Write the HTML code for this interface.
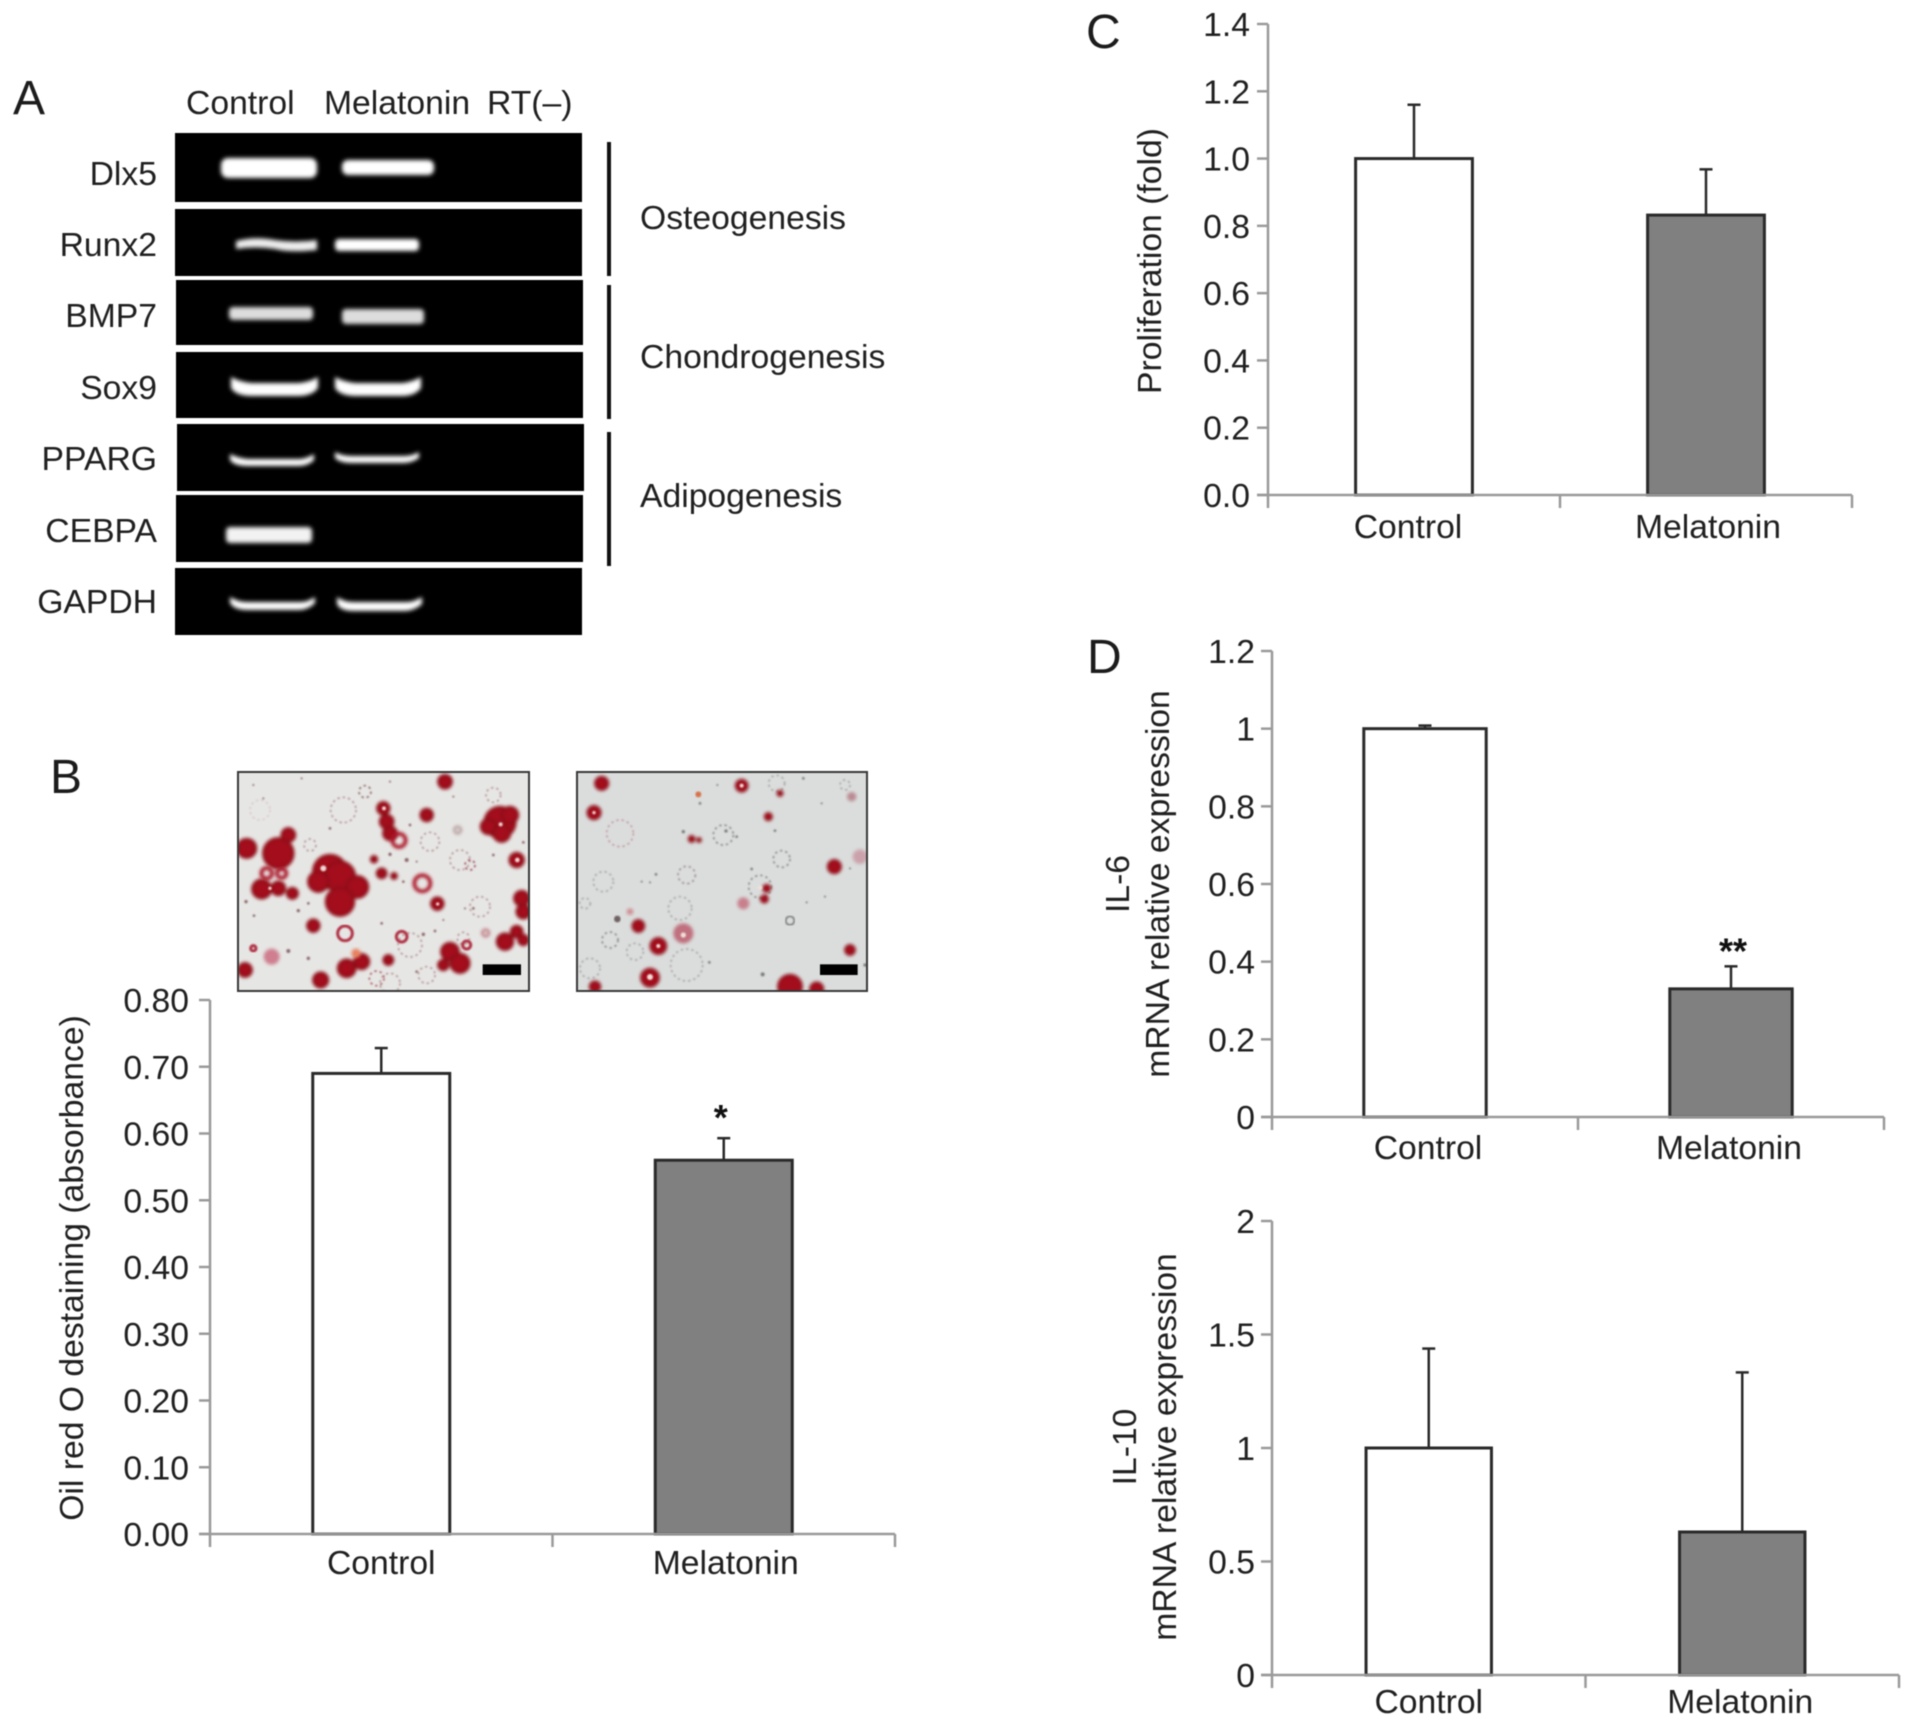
<!DOCTYPE html>
<html lang="en">
<head>
<meta charset="utf-8">
<title>Melatonin effects on gene expression, adipogenesis, proliferation and cytokines</title>
<style>
html,body{margin:0;padding:0;background:#fff}
svg{display:block;filter:blur(.55px)}
text{font-family:"Liberation Sans",Arial,sans-serif;fill:#202020;font-size:33.7px}
.cap{font-size:48px;fill:#1c1c1c}
</style>
</head>
<body>
<svg id="figure" xmlns="http://www.w3.org/2000/svg" width="1913" height="1727" viewBox="0 0 1913 1727">
<defs>
<filter id="bandBlur" x="-10%" y="-50%" width="120%" height="200%"><feGaussianBlur stdDeviation="2.2"/></filter>
<filter id="softBlur" x="-20%" y="-20%" width="140%" height="140%"><feGaussianBlur stdDeviation="4.5"/></filter>
<filter id="specBlur" x="-5%" y="-5%" width="110%" height="110%"><feGaussianBlur stdDeviation="2.5"/></filter>
<clipPath id="clipM1"><rect x="24" y="21" width="873" height="657"/></clipPath>
<clipPath id="clipM2"><rect x="21" y="21" width="870" height="657"/></clipPath>
</defs>
<rect width="1913" height="1727" fill="#fff"/>

<!-- Panel A -->
<g>
<text class="cap" x="13" y="114">A</text>
<text x="186" y="114">Control</text>
<text x="324" y="114">Melatonin</text>
<text x="487" y="114">RT(–)</text>
<g fill="#000">
<rect x="175" y="133" width="407" height="69"/>
<rect x="175" y="209" width="407" height="67"/>
<rect x="176" y="280" width="407" height="65"/>
<rect x="176" y="352" width="407" height="66"/>
<rect x="177" y="424" width="407" height="67"/>
<rect x="176" y="495" width="407" height="67"/>
<rect x="175" y="568" width="407" height="67"/>
</g>
<g fill="#fff" filter="url(#bandBlur)">
<rect x="221" y="158" width="96" height="20" rx="7"/>
<rect x="342" y="160" width="92" height="15" rx="6"/>
<path d="M236 241 Q255 236 275 240 Q295 243 317 240 L317 250 Q290 253 275 249 Q255 246 236 249Z" fill="#eee"/>
<rect x="335" y="239" width="84" height="12" rx="4"/>
<rect x="229" y="307" width="84" height="13" rx="4" fill="#ddd"/>
<rect x="342" y="309" width="82" height="15" rx="4" fill="#ddd"/>
<path d="M231 377 Q240 382 252 383 H298 Q310 382 318 377 L318 388 Q312 396 298 396 H252 Q236 396 231 388Z"/>
<path d="M335 377 Q344 382 356 383 H402 Q412 382 421 377 L421 388 Q415 396 402 396 H356 Q340 396 335 388Z"/>
<path d="M230 454 Q238 458 248 459 H300 Q308 458 314 454 L314 460 Q308 466 298 466 H248 Q234 466 230 460Z"/>
<path d="M335 452 Q342 456 352 456 H404 Q412 456 419 452 L419 458 Q412 463 402 463 H352 Q340 463 335 458Z"/>
<rect x="226" y="527" width="86" height="16" rx="4" fill="#f2f2f2"/>
<path d="M230 597 Q238 602 248 602 H300 Q308 602 315 597 L315 603 Q308 610 298 610 H248 Q234 610 230 603Z"/>
<path d="M337 597 Q344 602 354 602 H406 Q414 602 422 597 L422 604 Q414 611 404 611 H354 Q340 611 337 604Z"/>
</g>
<g text-anchor="end">
<text x="157" y="185">Dlx5</text>
<text x="157" y="256">Runx2</text>
<text x="157" y="327">BMP7</text>
<text x="157" y="399">Sox9</text>
<text x="157" y="470">PPARG</text>
<text x="157" y="542">CEBPA</text>
<text x="157" y="613">GAPDH</text>
</g>
<g stroke="#111" stroke-width="4">
<line x1="609" y1="142" x2="609" y2="276"/>
<line x1="609" y1="285" x2="609" y2="419"/>
<line x1="609" y1="432" x2="609" y2="566"/>
</g>
<text x="640" y="229">Osteogenesis</text>
<text x="640" y="368">Chondrogenesis</text>
<text x="640" y="507">Adipogenesis</text>
</g>

<!-- Panel B micrographs -->
<text class="cap" x="50" y="793">B</text>
<g transform="translate(230 765) scale(.33333)">
<rect x="24" y="21" width="873" height="657" fill="#e6e6e4"/>
<g clip-path="url(#clipM1)">
<g fill="none" stroke="#b7979a" stroke-width="5" stroke-dasharray="7 9" filter="url(#specBlur)">
<circle cx="340" cy="135" r="38"/><circle cx="600" cy="230" r="28"/><circle cx="690" cy="285" r="30"/><circle cx="750" cy="425" r="30"/><circle cx="540" cy="540" r="36"/><circle cx="480" cy="655" r="30"/><circle cx="590" cy="630" r="25"/><circle cx="90" cy="135" r="30" stroke="#dacaca"/><circle cx="790" cy="90" r="22"/><circle cx="405" cy="80" r="18" stroke="#8f6a6c"/><circle cx="720" cy="300" r="15" stroke="#a05060"/><circle cx="700" cy="520" r="18"/><circle cx="440" cy="640" r="22" stroke="#b0606a"/><circle cx="240" cy="240" r="18"/>
</g>
<g fill="#8e6a6e" filter="url(#specBlur)">
<circle cx="70" cy="60" r="3"/><circle cx="215" cy="40" r="3"/><circle cx="480" cy="50" r="3"/><circle cx="540" cy="180" r="4"/><circle cx="300" cy="190" r="4"/><circle cx="530" cy="285" r="6"/><circle cx="480" cy="268" r="5"/><circle cx="560" cy="290" r="3"/><circle cx="520" cy="350" r="4"/><circle cx="48" cy="410" r="5"/><circle cx="72" cy="452" r="4"/><circle cx="205" cy="437" r="5"/><circle cx="235" cy="415" r="4"/><circle cx="175" cy="558" r="6"/><circle cx="235" cy="580" r="5"/><circle cx="790" cy="270" r="4"/><circle cx="880" cy="232" r="4"/><circle cx="455" cy="475" r="4"/><circle cx="580" cy="508" r="5"/><circle cx="615" cy="498" r="4"/><circle cx="640" cy="465" r="3"/><circle cx="705" cy="430" r="3"/><circle cx="730" cy="430" r="4"/><circle cx="560" cy="620" r="4"/><circle cx="100" cy="100" r="3"/><circle cx="670" cy="95" r="3"/>
</g>
<g fill="none" stroke="#b03044" stroke-width="9" filter="url(#specBlur)"><circle cx="345" cy="505" r="22"/><circle cx="70" cy="550" r="8"/><circle cx="515" cy="515" r="16"/><circle cx="710" cy="540" r="12"/></g>
<g fill="#a30f1e" stroke="#8c0b18" stroke-width="7" filter="url(#softBlur)">
<circle cx="300" cy="320" r="50"/><circle cx="330" cy="335" r="45"/><circle cx="265" cy="350" r="30"/><circle cx="382" cy="366" r="32"/><circle cx="330" cy="410" r="42"/><circle cx="145" cy="265" r="45"/><circle cx="175" cy="210" r="20"/><circle cx="50" cy="250" r="28"/><circle cx="95" cy="372" r="28"/><circle cx="145" cy="370" r="20"/>
<circle cx="810" cy="172" r="46"/><circle cx="775" cy="185" r="22"/><circle cx="815" cy="205" r="25"/><circle cx="840" cy="150" r="24"/>
<circle cx="460" cy="130" r="18"/><circle cx="470" cy="170" r="20"/><circle cx="480" cy="205" r="20"/><circle cx="645" cy="50" r="20"/><circle cx="590" cy="150" r="18"/><circle cx="860" cy="285" r="21"/><circle cx="622" cy="416" r="18"/><circle cx="875" cy="400" r="22"/><circle cx="880" cy="440" r="20"/><circle cx="825" cy="530" r="24"/><circle cx="860" cy="500" r="17"/><circle cx="880" cy="525" r="15"/><circle cx="660" cy="560" r="26"/><circle cx="640" cy="600" r="15"/><circle cx="690" cy="595" r="28"/><circle cx="350" cy="610" r="26"/><circle cx="395" cy="590" r="22"/><circle cx="272" cy="645" r="22"/><circle cx="250" cy="482" r="18"/><circle cx="475" cy="585" r="14"/><circle cx="45" cy="615" r="20"/><circle cx="187" cy="385" r="16"/><circle cx="455" cy="325" r="14"/><circle cx="432" cy="283" r="9"/><circle cx="492" cy="333" r="8"/>
</g>
<circle cx="125" cy="575" r="24" fill="#cf7f90" filter="url(#softBlur)"/>
<g fill="none" stroke="#ab1525" stroke-width="11" filter="url(#softBlur)"><circle cx="507" cy="226" r="20"/><circle cx="577" cy="355" r="24"/><circle cx="110" cy="325" r="16"/><circle cx="155" cy="325" r="14"/><circle cx="767" cy="504" r="10" stroke="#b5606a" stroke-width="6"/><circle cx="683" cy="195" r="10" stroke="#a98a8a" stroke-width="6"/></g>
<g fill="#f0d8d4" filter="url(#specBlur)"><circle cx="462" cy="130" r="6"/><circle cx="812" cy="178" r="6"/><circle cx="280" cy="310" r="9"/><circle cx="862" cy="285" r="7"/><circle cx="623" cy="417" r="5"/><circle cx="120" cy="370" r="5"/></g>
<circle cx="378" cy="565" r="14" fill="#e8805e" filter="url(#softBlur)"/>
</g>
<rect x="24" y="21" width="873" height="657" fill="none" stroke="#383838" stroke-width="6"/>
<rect x="758" y="598" width="115" height="32" fill="#000"/>
</g>
<g transform="translate(570 765) scale(.33333)">
<rect x="21" y="21" width="870" height="657" fill="#dadddc"/>
<g clip-path="url(#clipM2)">
<g fill="none" stroke="#aca6a8" stroke-width="5" stroke-dasharray="7 9" filter="url(#specBlur)">
<circle cx="150" cy="205" r="40" stroke="#c79aa2"/><circle cx="635" cy="282" r="25" stroke="#8f8a8a"/><circle cx="350" cy="330" r="26" stroke="#a39195"/><circle cx="120" cy="525" r="24" stroke="#8f8a8a"/><circle cx="195" cy="560" r="25"/><circle cx="330" cy="430" r="35"/><circle cx="60" cy="610" r="30"/><circle cx="350" cy="600" r="48"/><circle cx="100" cy="350" r="30"/><circle cx="45" cy="415" r="16"/><circle cx="460" cy="210" r="30" stroke="#8f8a8a"/><circle cx="620" cy="55" r="24"/><circle cx="570" cy="365" r="34" stroke="#8f8a8a"/><circle cx="825" cy="60" r="15"/>
</g>
<circle cx="660" cy="467" r="13" fill="none" stroke="#777" stroke-width="5" filter="url(#specBlur)"/>
<g fill="#7d7b7b" filter="url(#specBlur)">
<circle cx="340" cy="200" r="5"/><circle cx="468" cy="198" r="5"/><circle cx="500" cy="215" r="4"/><circle cx="258" cy="328" r="4"/><circle cx="215" cy="350" r="3"/><circle cx="240" cy="352" r="3"/><circle cx="442" cy="60" r="3"/><circle cx="390" cy="115" r="4"/><circle cx="545" cy="312" r="4"/><circle cx="418" cy="592" r="4"/><circle cx="578" cy="628" r="6"/><circle cx="700" cy="40" r="4"/><circle cx="755" cy="115" r="3"/><circle cx="840" cy="310" r="3"/><circle cx="765" cy="395" r="3"/><circle cx="710" cy="412" r="3"/><circle cx="885" cy="600" r="5"/><circle cx="615" cy="197" r="4"/>
</g>
<circle cx="870" cy="275" r="22" fill="#cba2ab" filter="url(#softBlur)"/>
<circle cx="340" cy="505" r="30" fill="#c0707e" filter="url(#softBlur)"/>
<circle cx="520" cy="415" r="18" fill="#c8808c" filter="url(#softBlur)"/>
<circle cx="180" cy="440" r="10" fill="#d08a90" filter="url(#softBlur)"/>
<circle cx="142" cy="462" r="10" fill="#6f6062" filter="url(#specBlur)"/>
<circle cx="845" cy="95" r="14" fill="#ba8a92" filter="url(#softBlur)"/>
<g fill="#a30f1e" stroke="#8c0b18" stroke-width="5" filter="url(#softBlur)">
<circle cx="95" cy="55" r="20"/><circle cx="72" cy="143" r="20"/><circle cx="265" cy="543" r="24"/><circle cx="793" cy="305" r="20"/><circle cx="840" cy="555" r="15"/><circle cx="583" cy="402" r="11"/><circle cx="590" cy="370" r="11"/><circle cx="240" cy="638" r="27"/><circle cx="205" cy="483" r="18"/><circle cx="365" cy="222" r="9"/><circle cx="387" cy="225" r="6"/><circle cx="595" cy="155" r="11"/><circle cx="515" cy="62" r="18"/><circle cx="630" cy="85" r="8"/><circle cx="660" cy="665" r="36"/><circle cx="740" cy="672" r="20"/><circle cx="75" cy="665" r="16"/>
</g>
<circle cx="385" cy="88" r="9" fill="#d8704a" filter="url(#specBlur)"/>
<g fill="#f0e0d8" filter="url(#specBlur)"><circle cx="265" cy="543" r="6"/><circle cx="240" cy="636" r="9"/><circle cx="72" cy="143" r="5"/><circle cx="515" cy="62" r="6"/><circle cx="570" cy="368" r="7"/><circle cx="340" cy="510" r="8"/></g>
</g>
<rect x="21" y="21" width="870" height="657" fill="none" stroke="#383838" stroke-width="6"/>
<rect x="750" y="598" width="113" height="32" fill="#000"/>
</g>

<!-- Panel captions -->
<text class="cap" x="1086" y="48">C</text>
<text class="cap" x="1087" y="673">D</text>

<g id="charts"></g>
</svg>

<script>
// Shared categories
const categories = ['Control', 'Melatonin'];

// Panel B
const oilRedValues = [0.69, 0.56];
const oilRedErrors = [0.038, 0.033];
const oilRedTicks = ['0.00', '0.10', '0.20', '0.30', '0.40', '0.50', '0.60', '0.70', '0.80'];
const oilRedMarks = ['', '*'];

// Panel C
const proliferationValues = [1.0, 0.832];
const proliferationErrors = [0.16, 0.136];
const proliferationTicks = ['0.0', '0.2', '0.4', '0.6', '0.8', '1.0', '1.2', '1.4'];
const proliferationMarks = ['', ''];

// Panel D, IL-6
const il6Values = [1.0, 0.33];
const il6Errors = [0.008, 0.058];
const il6Ticks = ['0', '0.2', '0.4', '0.6', '0.8', '1', '1.2'];
const il6Marks = ['', '**'];

// Panel D, IL-10
const il10Values = [1.0, 0.63];
const il10Errors = [0.438, 0.703];
const il10Ticks = ['0', '0.5', '1', '1.5', '2'];
const il10Marks = ['', ''];

const SVG_NS = 'http://www.w3.org/2000/svg';
const AXIS_COLOR = '#9a9a9a';
const INK = '#2a2a2a';
const BAR_FILLS = ['#ffffff', '#808080'];

function make(parent, tag, attrs, text) {
  const node = document.createElementNS(SVG_NS, tag);
  for (const key in attrs) node.setAttribute(key, attrs[key]);
  if (text !== undefined) node.textContent = text;
  parent.appendChild(node);
  return node;
}

function drawBarChart(cfg) {
  const root = document.getElementById('charts');
  const group = make(root, 'g', {});
  
  

  const yMax = Number(cfg.ticks[cfg.ticks.length - 1]);
  const yScale = v => cfg.bottom - (v / yMax) * (cfg.bottom - cfg.top);
  const band = (cfg.right - cfg.left) / cfg.categories.length;
  const xCenter = i => cfg.left + (i + 0.5) * band;
  const barWidth = band * 0.4;

  cfg.categories.forEach((cat, i) => {
    const cx = xCenter(i);
    const yTop = yScale(cfg.values[i]);
    const yErr = yScale(cfg.values[i] + cfg.errors[i]);

    const stem = make(group, 'line', {x1: cx, x2: cx, y1: yTop, y2: yErr, stroke: INK, 'stroke-width': 2.5});
    
    

    const cap = make(group, 'line', {x1: cx - 6.5, x2: cx + 6.5, y1: yErr, y2: yErr, stroke: INK, 'stroke-width': 2.5});
    
    

    const bar = make(group, 'rect', {x: cx - barWidth / 2, y: yTop, width: barWidth, height: cfg.bottom - yTop, fill: BAR_FILLS[i], stroke: INK, 'stroke-width': 3});
    
    

    const label = make(group, 'text', {x: cx + cfg.labelNudge[i], y: cfg.bottom + cfg.labelDrop, 'text-anchor': 'middle'}, cat);
    
    

    if (cfg.marks[i]) {
      const mark = make(group, 'text', {x: cx + cfg.markDx, y: yErr + cfg.markDy, 'text-anchor': 'middle', 'font-weight': 'bold', style: 'font-size:36px;fill:#111'}, cfg.marks[i]);
      
      
    }
  });

  const yAxis = make(group, 'line', {x1: cfg.left, x2: cfg.left, y1: cfg.top, y2: cfg.bottom + 13, stroke: AXIS_COLOR, 'stroke-width': 2.5});
  
  

  const xAxis = make(group, 'line', {x1: cfg.left - 11, x2: cfg.right, y1: cfg.bottom, y2: cfg.bottom, stroke: AXIS_COLOR, 'stroke-width': 2.5});
  
  

  for (let i = 1; i <= cfg.categories.length; i++) {
    const tx = cfg.left + i * band;
    const xTick = make(group, 'line', {x1: tx, x2: tx, y1: cfg.bottom, y2: cfg.bottom + 13, stroke: AXIS_COLOR, 'stroke-width': 2.5});
    
    
  }

  cfg.ticks.forEach(tick => {
    const ty = yScale(Number(tick));
    const yTick = make(group, 'line', {x1: cfg.left - 11, x2: cfg.left, y1: ty, y2: ty, stroke: AXIS_COLOR, 'stroke-width': 2.5});
    
    

    const tickLabel = make(group, 'text', {x: cfg.left - cfg.tickGap, y: ty + 12, 'text-anchor': 'end'}, tick);
    
    
  });

  cfg.titles.forEach(t => {
    const title = make(group, 'text', {transform: 'translate(' + t.x + ' ' + t.y + ') rotate(-90)', 'text-anchor': 'middle'}, t.text);
    
    
  });
}

drawBarChart({
  name: 'chart-oil-red-o', categories: categories, values: oilRedValues, errors: oilRedErrors,
  ticks: oilRedTicks, marks: oilRedMarks, markDx: -3, markDy: -8, tickGap: 21,
  left: 210, right: 895, top: 1000, bottom: 1534, labelDrop: 40, labelNudge: [0, 2],
  titles: [{text: 'Oil red O destaining (absorbance)', x: 83, y: 1268}]
});
drawBarChart({
  name: 'chart-proliferation', categories: categories, values: proliferationValues, errors: proliferationErrors,
  ticks: proliferationTicks, marks: proliferationMarks, markDx: 0, markDy: 0, tickGap: 18,
  left: 1268, right: 1852, top: 24, bottom: 495, labelDrop: 43, labelNudge: [-6, 2],
  titles: [{text: 'Proliferation (fold)', x: 1161, y: 261}]
});
drawBarChart({
  name: 'chart-il6', categories: categories, values: il6Values, errors: il6Errors,
  ticks: il6Ticks, marks: il6Marks, markDx: 2, markDy: -3, tickGap: 17,
  left: 1272, right: 1884, top: 651, bottom: 1117, labelDrop: 42, labelNudge: [3, -2],
  titles: [{text: 'IL-6', x: 1129, y: 884}, {text: 'mRNA relative expression', x: 1169, y: 884}]
});
drawBarChart({
  name: 'chart-il10', categories: categories, values: il10Values, errors: il10Errors,
  ticks: il10Ticks, marks: il10Marks, markDx: 0, markDy: 0, tickGap: 17,
  left: 1272, right: 1899, top: 1221, bottom: 1675, labelDrop: 38, labelNudge: [0, -2],
  titles: [{text: 'IL-10', x: 1136, y: 1447}, {text: 'mRNA relative expression', x: 1176, y: 1447}]
});
</script>
</body>
</html>
